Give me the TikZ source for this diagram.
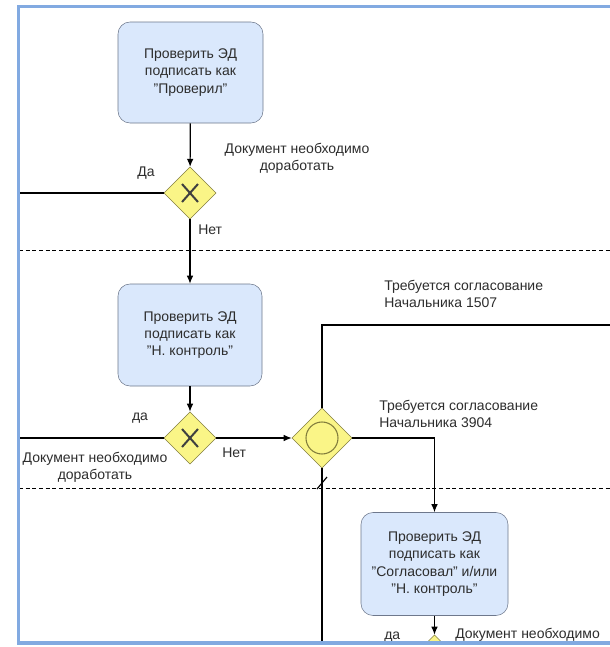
\documentclass[tikz,border=0pt]{standalone}
\usepackage{fontspec}
\setmainfont{Liberation Sans}
\usetikzlibrary{shapes.geometric,arrows.meta}

\definecolor{taskfill}{RGB}{218,232,252}
\definecolor{taskdraw}{RGB}{110,120,140}
\definecolor{gatefill}{RGB}{250,245,135}
\definecolor{gatedraw}{RGB}{130,125,60}
\definecolor{framecol}{RGB}{130,170,225}
\definecolor{txtcol}{RGB}{45,45,45}

\tikzset{
  task/.style={draw=taskdraw, fill=taskfill, rounded corners=9pt, align=center,
    text=txtcol, font=\fontsize{10.5}{13}\selectfont, inner sep=0pt},
  gate/.style={diamond, draw=gatedraw, fill=gatefill, inner sep=0pt,
    minimum width=39pt, minimum height=39pt},
  flow/.style={-{Latex[length=6pt,width=5pt]}, line width=0.9pt},
  line/.style={line width=0.9pt},
  cross/.style={line width=1.5pt, black!75},
  lbl/.style={text=txtcol, font=\fontsize{10.5}{13}\selectfont, inner sep=0pt},
  lane/.style={dash pattern=on 3pt off 2pt, line width=0.7pt}
}

\begin{document}
\begin{tikzpicture}[x=0.75pt, y=-0.75pt]
    \useasboundingbox (0,0) rectangle (610,647);
    \fill[white] (0,0) rectangle (610,647);

    \begin{scope}
        \clip (19,8) rectangle (610,642);

        % --- Дорожки ---
        \draw[lane] (19,250) -- (610,250);
        \draw[lane] (19,488) -- (610,488);

        % --- Задачи ---
        \node[task, minimum width=108.75pt, minimum height=75.75pt] (t1) at (190.5,72.5)
            {Проверить ЭД\\подписать как\\"Проверил"};
        \node[task, minimum width=108pt, minimum height=76.5pt] (t2) at (190,335)
            {Проверить ЭД\\подписать как\\"Н. контроль"};
        \node[task, minimum width=110.25pt, minimum height=77.25pt] (t3) at (434.5,564)
            {Проверить ЭД\\подписать как\\"Согласовал" и/или\\"Н. контроль"};

        % --- Шлюзы ---
        \node[gate] (g1) at (190,193) {};
        \node[gate] (g2) at (190,438) {};
        \node[gate, minimum width=45pt, minimum height=45pt] (g3) at (322,438) {};
        \node[gate] (g4) at (434.5,661) {};
        \foreach \g in {g1,g2,g4}
            \draw[cross] (\g.center) +(-8,-9) -- +(8,9) +(-8,9) -- +(8,-9);
        \draw[gatedraw, line width=0.8pt] (g3.center) circle (16);

        % Концы линий
        \coordinate (l1) at (19,193);
        \coordinate (l2) at (19,438);
        \coordinate (r1) at (610,325);
        \coordinate (b1) at (322,647);
        \coordinate (dflt) at (322,483);

        % --- Потоки ---
        \draw[flow] (t1) -- (g1);
        \draw[line] (g1.west) -- (l1);
        \draw[flow] (g1) -- (t2);
        \draw[flow] (t2) -- (g2);
        \draw[line] (g2.west) -- (l2);
        \draw[flow] (g2) -- (g3);
        \draw[line] (g3.north) |- (r1);
        \draw[flow] (g3.east) -| (t3.north);
        \draw[line] (g3.south) -- (b1);
        \draw[line] (dflt) +(-5,6) -- +(5,-6);
        \draw[flow] (t3) -- (g4);

        % --- Подписи ---
        \node[lbl, align=center] (rw1) at (297,158) {Документ необходимо\\доработать};
        \node[lbl] (yes1) at (146,173) {Да};
        \node[lbl, anchor=west] (no1) at (198,230) {Нет};
        \node[lbl] (yes2) at (140,418) {да};
        \node[lbl, align=center] (rw2) at (95,467) {Документ необходимо\\доработать};
        \node[lbl, anchor=west] (no2) at (222,453) {Нет};
        \node[lbl, align=left, anchor=west] (c1507) at (384,294)
            {Требуется согласование\\Начальника 1507};
        \node[lbl, align=left, anchor=west] (c3904) at (379,414)
            {Требуется согласование\\Начальника 3904};
        \node[lbl, anchor=base west] (yes3) at (384,639) {да};
        \node[lbl, anchor=base west] (rw3) at (455,638) {Документ необходимо};
    \end{scope}

    % Рамка
    \draw[framecol, line width=2.5pt] (610,6.5) -- (18.5,6.5) -- (18.5,643) -- (610,643);
\end{tikzpicture}
\end{document}
